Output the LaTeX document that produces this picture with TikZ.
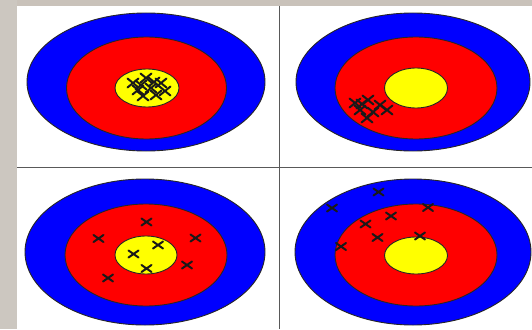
\documentclass[tikz,border=0pt]{standalone}
\definecolor{tblue}{RGB}{0,0,255}
\definecolor{tred}{RGB}{255,0,0}
\definecolor{tyellow}{RGB}{255,255,0}
\definecolor{bgtop}{RGB}{201,194,186}
\definecolor{bgleft}{RGB}{204,199,192}
\begin{document}
\begin{tikzpicture}[x=1pt,y=-1pt,
  ring/.style={draw=black!85,line width=0.9pt},
  bluering/.style={ring,fill=tblue},
  redring/.style={ring,fill=tred},
  yellowring/.style={ring,fill=tyellow},
  divider/.style={draw=black!65,line width=1pt},
  xmark/.pic={\draw[line width=2pt,black!90,line cap=round] (-5,-3.5)--(5,3.5) (-5,3.5)--(5,-3.5);},
  bigxmark/.pic={\draw[line width=2pt,black!90,line cap=round] (-5.5,-4.5)--(5.5,4.5) (-5.5,4.5)--(5.5,-4.5);}]
\useasboundingbox (0,0) rectangle (532,329);
% background
\fill[white] (0,0) rectangle (532,329);
\fill[bgtop] (0,0) rectangle (532,6.5);
\fill[bgleft] (0,0) rectangle (17,329);
% dividers
\draw[divider] (17,167) -- (532,167);
\draw[divider] (279,6.5) -- (279,329);
% top-left target
\draw[bluering] (146,82) ellipse[x radius=119,y radius=69];
\draw[redring] (146.5,88) ellipse[x radius=80,y radius=51];
\draw[yellowring] (147,88) ellipse[x radius=32,y radius=19];
\foreach \p in {(133,83),(146,78),(161,83),(138,90),(151,88),(165,91),(143,96),(156,95),(141,85),(154,82)}
  \pic at \p {bigxmark};
% top-right target
\draw[bluering] (413,82) ellipse[x radius=117,y radius=69];
\draw[redring] (416,88) ellipse[x radius=81,y radius=51];
\draw[yellowring] (416,88) ellipse[x radius=31.5,y radius=20];
\foreach \p in {(355,103),(368,100),(380,105),(360,110),(373,112),(387,110),(367,118),(362,104)}
  \pic at \p {bigxmark};
% bottom-left target
\draw[bluering] (145,252) ellipse[x radius=120,y radius=73];
\draw[redring] (146,255) ellipse[x radius=81,y radius=51];
\draw[yellowring] (146,255) ellipse[x radius=31,y radius=19];
\foreach \p in {(146.5,222),(98.5,238.5),(195.5,238),(158,245),(133.5,254),(146.5,268.5),(187,265),(108,278)}
  \pic at \p {xmark};
% bottom-right target
\draw[bluering] (413,252) ellipse[x radius=118,y radius=73];
\draw[redring] (416,255) ellipse[x radius=81,y radius=51];
\draw[yellowring] (416,255.5) ellipse[x radius=31.5,y radius=18.5];
\foreach \p in {(378.5,192),(332,208),(428,207.5),(391,216),(365.5,224),(377.5,237.5),(420,236),(341,246.5)}
  \pic at \p {xmark};
\end{tikzpicture}
\end{document}
